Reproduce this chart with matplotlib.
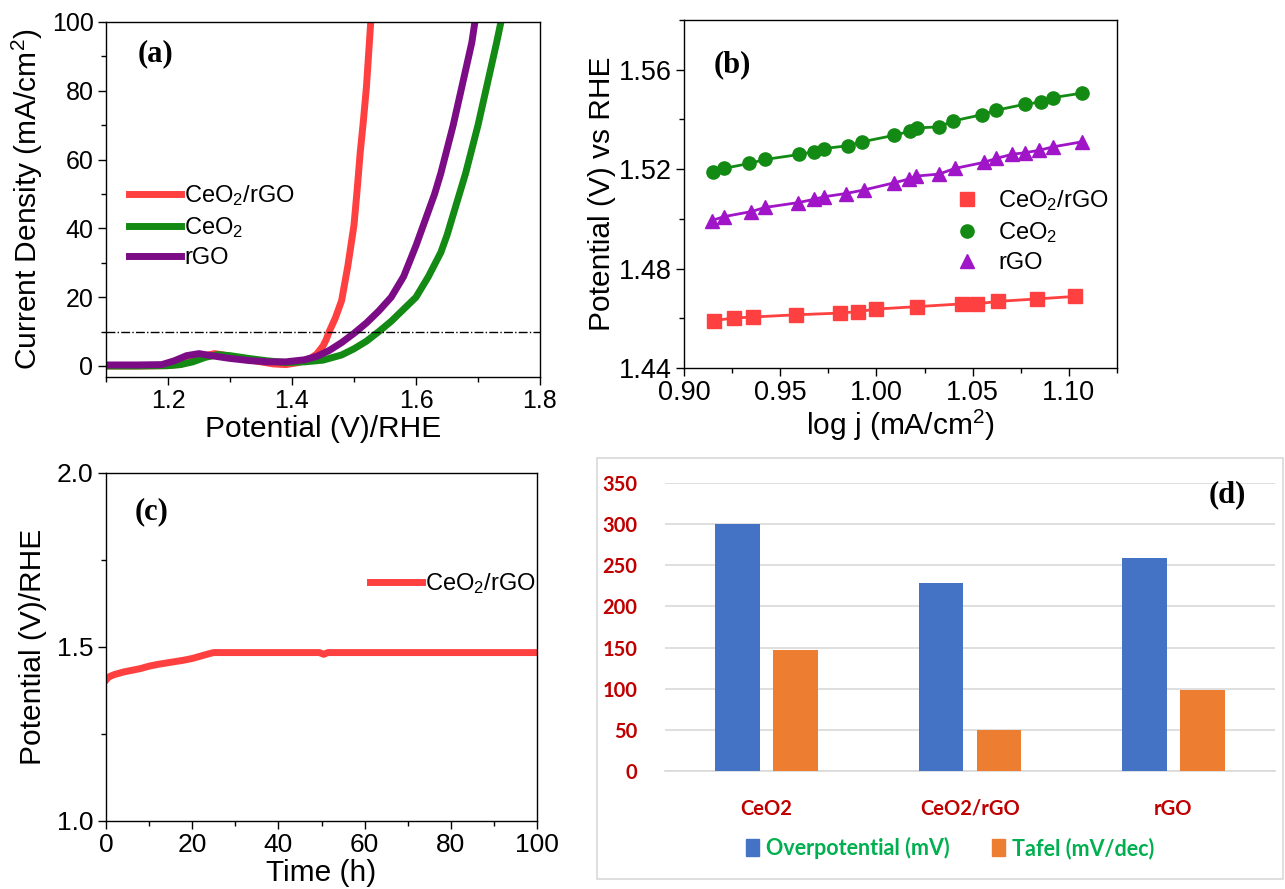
import numpy as np
import matplotlib
matplotlib.use("Agg")
import matplotlib.pyplot as plt
from matplotlib.patches import Rectangle, Patch
from matplotlib.ticker import MultipleLocator

plt.rcParams['font.family'] = ['Liberation Sans', 'DejaVu Sans']
plt.rcParams['mathtext.default'] = 'regular'

# (a) LSV curves
v_comp = [1.10, 1.15, 1.20, 1.22, 1.24, 1.26, 1.275, 1.29, 1.31, 1.34, 1.37, 1.39, 1.41, 1.43,
          1.44, 1.45, 1.455, 1.46, 1.465, 1.47, 1.475, 1.48, 1.485, 1.49, 1.495, 1.50, 1.505,
          1.51, 1.515, 1.52, 1.527]
j_comp = [0.0, 0.0, 0.1, 0.5, 1.5, 3.0, 3.6, 3.2, 2.3, 1.5, 0.6, 0.4, 1.0, 2.2,
          3.5, 5.8, 7.6, 10, 12, 14, 16.5, 19, 24, 29, 35, 41, 51, 62, 71, 81, 100]
v_ceo2 = [1.10, 1.15, 1.20, 1.22, 1.24, 1.26, 1.28, 1.30, 1.33, 1.36, 1.39, 1.42, 1.45, 1.48,
          1.50, 1.52, 1.54, 1.56, 1.58, 1.60, 1.62, 1.64, 1.65, 1.66, 1.67, 1.68, 1.69, 1.70,
          1.71, 1.72, 1.73, 1.737]
j_ceo2 = [0.0, 0.0, 0.1, 0.4, 1.2, 2.5, 3.3, 3.0, 2.2, 1.5, 1.0, 1.2, 1.7, 3.2,
          5.0, 7.2, 10, 13, 16.5, 20, 26, 33, 38, 44, 50, 56, 63, 70, 78, 86, 94, 100]
v_rgo = [1.10, 1.15, 1.19, 1.21, 1.23, 1.25, 1.27, 1.30, 1.33, 1.36, 1.39, 1.42, 1.44, 1.46,
         1.48, 1.50, 1.52, 1.54, 1.56, 1.58, 1.60, 1.61, 1.62, 1.63, 1.64, 1.65, 1.66, 1.67,
         1.68, 1.69, 1.695]
j_rgo = [0.3, 0.3, 0.4, 1.5, 3.0, 3.6, 3.0, 2.2, 1.6, 1.2, 1.2, 1.8, 2.8, 4.5,
         6.8, 9.5, 12.5, 16, 20, 26, 35, 40, 45, 50, 56, 63, 70, 78, 86, 94, 100]

# (b) Tafel plots
logj_comp = [0.9156, 0.9259, 0.9357, 0.9580, 0.9813, 0.9906, 0.9999, 1.0213, 1.0446, 1.0520,
             1.0632, 1.0836, 1.1032]
tafel_comp = [1.4591, 1.4601, 1.4605, 1.4614, 1.4621, 1.4627, 1.4637, 1.4647, 1.4658, 1.4658,
              1.4668, 1.4678, 1.4688]
logj_ceo2 = [0.9153, 0.9208, 0.9339, 0.9422, 0.9599, 0.9673, 0.9729, 0.9850, 0.9925, 1.0092,
             1.0176, 1.0213, 1.0325, 1.0399, 1.0548, 1.0622, 1.0771, 1.0855, 1.0920, 1.1069]
tafel_ceo2 = [1.5187, 1.5203, 1.5223, 1.5239, 1.5259, 1.5270, 1.5283, 1.5294, 1.5310, 1.5336,
              1.5353, 1.5366, 1.5370, 1.5394, 1.5419, 1.5437, 1.5461, 1.5470, 1.5488, 1.5506]
logj_rgo = [0.9143, 0.9208, 0.9348, 0.9422, 0.9590, 0.9673, 0.9729, 0.9841, 0.9934, 1.0092,
            1.0167, 1.0204, 1.0325, 1.0408, 1.0557, 1.0622, 1.0706, 1.0771, 1.0846, 1.0920, 1.1069]
tafel_rgo = [1.4993, 1.5009, 1.5029, 1.5046, 1.5065, 1.5078, 1.5089, 1.5102, 1.5116, 1.5145,
             1.5160, 1.5172, 1.5180, 1.5203, 1.5227, 1.5243, 1.5260, 1.5266, 1.5276, 1.5290, 1.5310]

# (c) stability
time_h = [0, 0.5, 1, 2, 4, 6, 8, 10, 12, 15, 18, 20, 22, 24, 25, 30, 40, 49.5, 50.5, 51.5,
          60, 70, 80, 90, 100]
pot_t = [1.405, 1.412, 1.416, 1.421, 1.428, 1.433, 1.438, 1.445, 1.450, 1.456, 1.462, 1.467,
         1.474, 1.481, 1.484, 1.484, 1.484, 1.484, 1.479, 1.484, 1.484, 1.484, 1.484, 1.484, 1.484]

# (d) bar chart
cats = ['CeO2', 'CeO2/rGO', 'rGO']
overpot = [300, 229, 259]
tafel = [147, 50, 98]

c_red = '#FF4040'
c_green = '#138A13'
c_purple = '#7B0C86'
c_purple_b = '#A015C8'

W, H = 1285, 889
fig = plt.figure(figsize=(W / 100, H / 100), dpi=100)

def box(l, t, r, b):
    return [l / W, 1 - b / H, (r - l) / W, (b - t) / H]

lab_fs = 21.5
leg_fs = 17

def style(ax, fs):
    ax.tick_params(which='both', direction='out', labelsize=fs, width=1, top=False, right=False)
    ax.tick_params(which='major', length=6, pad=3)
    ax.tick_params(which='minor', length=3.5)
    for s in ax.spines.values():
        s.set_linewidth(1)

# ---- (a)
ax1 = fig.add_axes(box(106, 22, 540, 377))
ax1.plot(v_comp, j_comp, color=c_red, lw=5, label='CeO$_2$/rGO')
ax1.plot(v_ceo2, j_ceo2, color=c_green, lw=5, label='CeO$_2$')
ax1.plot(v_rgo, j_rgo, color=c_purple, lw=5, label='rGO')
ax1.axhline(10, color='k', ls='-.', lw=1)
ax1.set_xlim(1.1, 1.8)
ax1.set_ylim(-3.2, 100)
ax1.set_xticks([1.2, 1.4, 1.6, 1.8])
ax1.xaxis.set_minor_locator(MultipleLocator(0.1))
ax1.set_yticks([0, 20, 40, 60, 80, 100])
ax1.yaxis.set_minor_locator(MultipleLocator(10))
style(ax1, 18)
ax1.set_xlabel('Potential (V)/RHE', fontsize=lab_fs, labelpad=1)
ax1.set_ylabel('Current Density (mA/cm$^2$)', fontsize=lab_fs, labelpad=5)
ax1.legend(loc='upper left', bbox_to_anchor=(0.025, 0.58), frameon=False, fontsize=leg_fs,
           handlelength=2.2, handletextpad=0.15, labelspacing=0.3, borderpad=0)

# ---- (b)
ax2 = fig.add_axes(box(684, 20, 1117, 368))
ax2.plot(logj_comp, tafel_comp, 's-', color=c_red, ms=9.5, lw=2, label='CeO$_2$/rGO')
ax2.plot(logj_ceo2, tafel_ceo2, 'o-', color=c_green, ms=9.5, lw=2, label='CeO$_2$')
ax2.plot(logj_rgo, tafel_rgo, '^-', color=c_purple_b, ms=9.5, lw=2, label='rGO')
ax2.set_xlim(0.90, 1.125)
ax2.set_ylim(1.44, 1.58)
ax2.set_xticks([0.90, 0.95, 1.00, 1.05, 1.10])
ax2.xaxis.set_major_formatter(plt.FormatStrFormatter('%.2f'))
ax2.xaxis.set_minor_locator(MultipleLocator(0.025))
ax2.set_yticks([1.44, 1.48, 1.52, 1.56])
ax2.yaxis.set_major_formatter(plt.FormatStrFormatter('%.2f'))
ax2.yaxis.set_minor_locator(MultipleLocator(0.02))
style(ax2, 19.5)
ax2.set_xlabel('log j (mA/cm$^2$)', fontsize=lab_fs, labelpad=1)
ax2.set_ylabel('Potential (V) vs RHE', fontsize=lab_fs, labelpad=2)
leg2 = ax2.legend(loc='upper left', bbox_to_anchor=(0.60, 0.55), frameon=False, fontsize=leg_fs,
                  handlelength=1.0, handletextpad=0.8, labelspacing=0.3, borderpad=0, numpoints=1)
for h in leg2.legend_handles:
    h.set_linestyle('none')

# ---- (c)
ax3 = fig.add_axes(box(106, 473, 537, 821))
ax3.plot(time_h, pot_t, color=c_red, lw=5, label='CeO$_2$/rGO')
ax3.set_xlim(0, 100)
ax3.set_ylim(1.0, 2.0)
ax3.set_xticks([0, 20, 40, 60, 80, 100])
ax3.xaxis.set_minor_locator(MultipleLocator(10))
ax3.set_yticks([1.0, 1.5, 2.0])
ax3.yaxis.set_major_formatter(plt.FormatStrFormatter('%.1f'))
ax3.yaxis.set_minor_locator(MultipleLocator(0.25))
style(ax3, 19)
ax3.set_xlabel('Time (h)', fontsize=lab_fs, labelpad=1)
ax3.set_ylabel('Potential (V)/RHE', fontsize=lab_fs, labelpad=7)
ax3.legend(loc='upper left', bbox_to_anchor=(0.585, 0.752), frameon=False, fontsize=leg_fs,
           handlelength=2.2, handletextpad=0.15, borderpad=0)

# ---- (d)
fig.patches.append(Rectangle((597 / W, 1 - 879 / H), 686 / W, 421 / H, transform=fig.transFigure,
                             facecolor='white', edgecolor='#D9D9D9', lw=1.2, zorder=-10))
ax4 = fig.add_axes(box(665, 483, 1275, 771))
x = np.arange(len(cats))
bw = 0.22
ax4.bar(x - 0.143, overpot, bw, color='#4472C4', zorder=3, label='Overpotential (mV)')
ax4.bar(x + 0.143, tafel, bw, color='#ED7D31', zorder=3, label='Tafel (mV/dec)')
ax4.set_xlim(-0.5, 2.5)
ax4.set_ylim(0, 350)
ax4.set_yticks(range(0, 351, 50))
ax4.set_xticks(x)
ax4.set_xticklabels(cats)
ax4.grid(axis='y', color='#D9D9D9', lw=1.2, zorder=0)
for s in ['top', 'right', 'left']:
    ax4.spines[s].set_visible(False)
ax4.spines['bottom'].set_color('#D9D9D9')
ax4.spines['bottom'].set_linewidth(1.2)
ax4.tick_params(length=0, colors='#C00000', labelsize=14.5)
ax4.tick_params(axis='y', pad=20)
ax4.tick_params(axis='x', pad=20)
for t in ax4.get_xticklabels() + ax4.get_yticklabels():
    t.set_fontfamily('Lato')
    t.set_fontweight('bold')
ax4.patch.set_alpha(0)
leg4 = fig.legend(handles=[Patch(color='#4472C4', label='Overpotential (mV)'),
                           Patch(color='#ED7D31', label='Tafel (mV/dec)')],
                  loc='center', bbox_to_anchor=(950 / W, 1 - 848 / H), ncol=2, frameon=False,
                  handlelength=0.6, handleheight=0.8, handletextpad=0.3, columnspacing=2.0,
                  prop={'family': 'Lato', 'weight': 'bold', 'size': 15.5})
for t in leg4.get_texts():
    t.set_color('#00B050')

# panel labels
lbl = dict(family='Liberation Serif', weight='bold', fontsize=22, va='center', ha='left')
fig.text(138 / W, 1 - 54 / H, '(a)', **lbl)
fig.text(714 / W, 1 - 65 / H, '(b)', **lbl)
fig.text(135 / W, 1 - 512 / H, '(c)', **lbl)
fig.text(1209 / W, 1 - 495 / H, '(d)', **lbl)

fig.savefig('out.png', dpi=100)
